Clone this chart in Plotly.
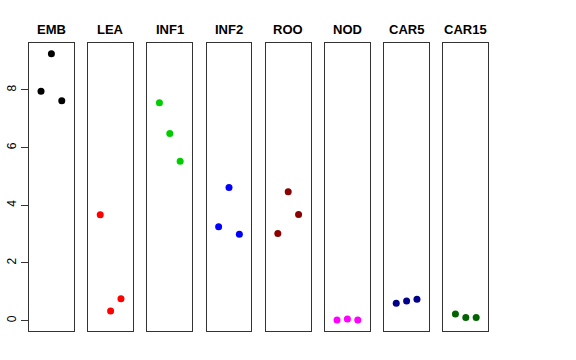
import plotly.graph_objects as go
import numpy as np

tissues = ["EMB", "LEA", "INF1", "INF2", "ROO", "NOD", "CAR5", "CAR15"]
colors = ["#000000", "#FF0000", "#00CD00", "#0000FF", "#8B0000", "#FF00FF", "#00008B", "#006400"]
rep_x = [1, 2, 3]
emb = [7.96, 9.26, 7.63]
lea = [3.67, 0.33, 0.76]
inf1 = [7.56, 6.49, 5.53]
inf2 = [3.26, 4.62, 3.00]
roo = [3.02, 4.47, 3.68]
nod = [0.02, 0.06, 0.02]
car5 = [0.60, 0.68, 0.74]
car15 = [0.23, 0.11, 0.11]
values = [emb, lea, inf1, inf2, roo, nod, car5, car15]
ytick_vals = [0, 2, 4, 6, 8]

W, H = 576, 360
allv = np.concatenate(values)
lo, hi = allv.min(), allv.max()
pad = (hi - lo) * 0.04
yrange = [lo - pad, hi + pad]
xrange = [-0.16, 4.16]

left0 = 29.0
step = 59.2
pw = 44.8
top_px, bot_px = 43.0, 330.7

fig = go.Figure()
for i, (name, col, vals) in enumerate(zip(tissues, colors, values)):
    n = "" if i == 0 else str(i + 1)
    fig.add_trace(go.Scatter(x=rep_x, y=vals, mode="markers",
                             marker=dict(color=col, size=7),
                             xaxis="x" + n, yaxis="y" + n, showlegend=False))
    x0 = left0 + i * step
    dom = [x0 / W, (x0 + pw) / W]
    fig.layout["xaxis" + n] = dict(domain=dom, range=xrange, showgrid=False, zeroline=False,
                                   showticklabels=False, ticks="", showline=True, mirror=True,
                                   linecolor="#333333", linewidth=1, anchor="y" + n, fixedrange=True,
                                   automargin=False)
    ya = dict(domain=[1 - bot_px / H, 1 - top_px / H], range=yrange, showgrid=False, zeroline=False,
              showline=True, mirror=True, linecolor="#333333", linewidth=1, anchor="x" + n,
              automargin=False)
    if i == 0:
        ya.update(tickvals=ytick_vals, ticktext=[str(v) for v in ytick_vals], ticks="outside",
                  ticklen=7, tickcolor="#333333", tickangle=-90,
                  tickfont=dict(family="Liberation Sans, Arial", size=12, color="#000000"))
    else:
        ya.update(showticklabels=False, ticks="")
    fig.layout["yaxis" + n] = ya
    fig.add_annotation(text="<b>" + name + "</b>", x=(x0 + pw / 2) / W, y=1 - 29 / H,
                       xref="paper", yref="paper", showarrow=False, xanchor="center", yanchor="middle",
                       font=dict(family="Liberation Sans, Arial", size=13, color="#000000"))

fig.update_layout(width=W, height=H, margin=dict(l=0, r=0, t=0, b=0, autoexpand=False),
                  paper_bgcolor="white", plot_bgcolor="white")
fig.write_html("out.html", config={"displayModeBar": False},
               post_script="document.body.style.margin='0';document.body.style.overflow='hidden';")
